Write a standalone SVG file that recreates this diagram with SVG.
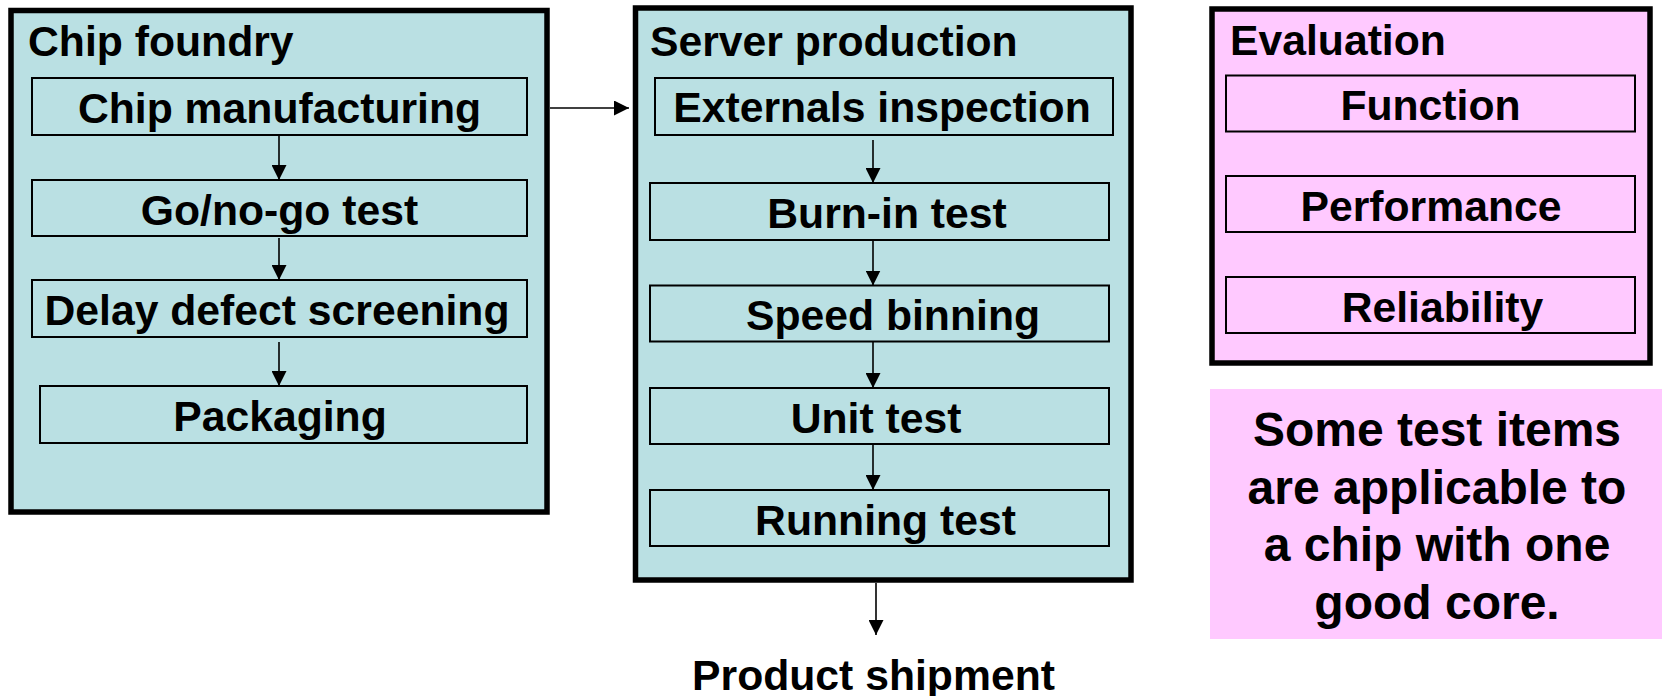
<svg xmlns="http://www.w3.org/2000/svg" width="1662" height="696" viewBox="0 0 1662 696">
  <style>
    text { font-family: "Liberation Sans", Arial, sans-serif; font-weight: bold; fill: #000; }
    .lbl { font-size: 42.7px; text-anchor: middle; }
    .head { font-size: 42.7px; }
    .note { font-size: 48px; text-anchor: middle; }
    .outer-teal { fill: #BAE0E3; stroke: #000; stroke-width: 5.5; }
    .outer-pink { fill: #FFC9FF; stroke: #000; stroke-width: 5.5; }
    .step { fill: none; stroke: #000; stroke-width: 2; }
    .conn { stroke: #000; stroke-width: 1.6; fill: none; marker-end: url(#arrow); }
  </style>
  <defs>
    <marker id="arrow" markerWidth="15" markerHeight="15" refX="15" refY="7.5" orient="auto" markerUnits="userSpaceOnUse">
      <path d="M0,0 L15,7.5 L0,15 Z" fill="#000"/>
    </marker>
  </defs>

  <!-- Chip foundry stage -->
  <g id="chip-foundry">
    <rect class="outer-teal" x="11" y="10.5" width="536" height="501.5"/>
    <text class="head" x="28" y="56">Chip foundry</text>
    <g id="chip-manufacturing">
      <rect class="step" x="32" y="78" width="495" height="57"/>
      <text class="lbl" x="279.5" y="123">Chip manufacturing</text>
    </g>
    <g id="go-no-go-test">
      <rect class="step" x="32" y="180" width="495" height="56"/>
      <text class="lbl" x="279.5" y="225">Go/no-go test</text>
    </g>
    <g id="delay-defect-screening">
      <rect class="step" x="32" y="280" width="495" height="57"/>
      <text class="lbl" x="277" y="325">Delay defect screening</text>
    </g>
    <g id="packaging">
      <rect class="step" x="40" y="386" width="487" height="57"/>
      <text class="lbl" x="280" y="431">Packaging</text>
    </g>
  </g>

  <!-- Server production stage -->
  <g id="server-production">
    <rect class="outer-teal" x="635.5" y="8" width="495.5" height="572"/>
    <text class="head" x="650" y="56">Server production</text>
    <g id="externals-inspection">
      <rect class="step" x="655" y="78" width="458" height="57"/>
      <text class="lbl" x="882" y="122">Externals inspection</text>
    </g>
    <g id="burn-in-test">
      <rect class="step" x="650" y="183" width="459" height="57"/>
      <text class="lbl" x="887" y="227.5">Burn-in test</text>
    </g>
    <g id="speed-binning">
      <rect class="step" x="650" y="285.5" width="459" height="56"/>
      <text class="lbl" x="893" y="330">Speed binning</text>
    </g>
    <g id="unit-test">
      <rect class="step" x="650" y="388" width="459" height="56"/>
      <text class="lbl" x="876" y="433">Unit test</text>
    </g>
    <g id="running-test">
      <rect class="step" x="650" y="490" width="459" height="56"/>
      <text class="lbl" x="885.5" y="534.5">Running test</text>
    </g>
  </g>

  <!-- Evaluation items -->
  <g id="evaluation">
    <rect class="outer-pink" x="1212" y="9" width="438" height="354"/>
    <text class="head" x="1230" y="55">Evaluation</text>
    <g id="function">
      <rect class="step" x="1226" y="75.5" width="409" height="56"/>
      <text class="lbl" x="1430.5" y="120">Function</text>
    </g>
    <g id="performance">
      <rect class="step" x="1226" y="176" width="409" height="56"/>
      <text class="lbl" x="1431" y="221">Performance</text>
    </g>
    <g id="reliability">
      <rect class="step" x="1226" y="277" width="409" height="56"/>
      <text class="lbl" x="1442.5" y="322">Reliability</text>
    </g>
  </g>

  <!-- Side note -->
  <g id="note">
    <rect x="1210" y="389" width="452" height="250" fill="#FFC9FF"/>
    <text class="note" x="1437" y="446">Some test items</text>
    <text class="note" x="1437" y="503.5">are applicable to</text>
    <text class="note" x="1437" y="561">a chip with one</text>
    <text class="note" x="1437" y="619">good core.</text>
  </g>

  <!-- Final output -->
  <g id="product-shipment">
    <text class="lbl" x="873.5" y="690">Product shipment</text>
  </g>

  <!-- Flow connectors -->
  <g id="connectors">
    <line class="conn" x1="279" y1="135" x2="279" y2="180"/>
    <line class="conn" x1="279" y1="238" x2="279" y2="280"/>
    <line class="conn" x1="279" y1="342" x2="279" y2="386"/>
    <line class="conn" x1="550" y1="108" x2="629" y2="108"/>
    <line class="conn" x1="873" y1="140" x2="873" y2="183"/>
    <line class="conn" x1="873" y1="240" x2="873" y2="285.5"/>
    <line class="conn" x1="873" y1="341.5" x2="873" y2="388"/>
    <line class="conn" x1="873" y1="444" x2="873" y2="490"/>
    <line class="conn" x1="876" y1="583" x2="876" y2="635"/>
  </g>
</svg>
